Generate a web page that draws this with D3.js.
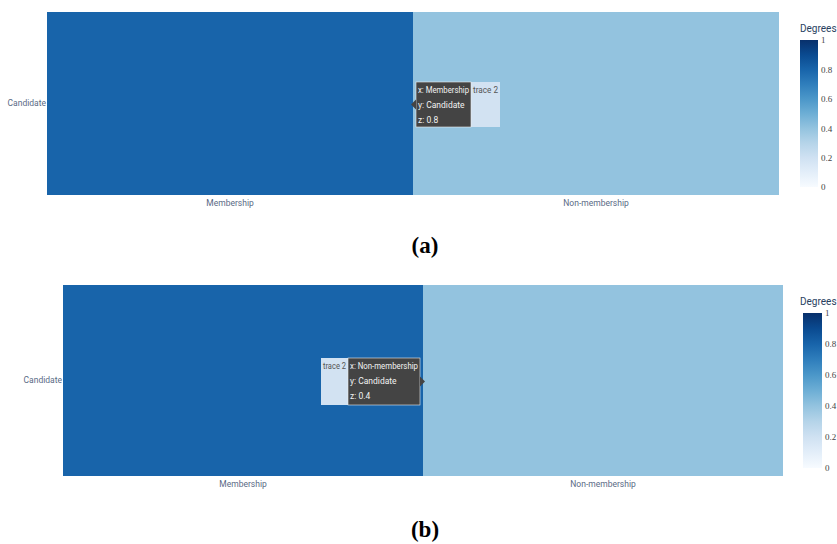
<!DOCTYPE html>
<html>
<head>
<meta charset="utf-8">
<script src="https://cdn.jsdelivr.net/npm/d3@7"></script>
<style>
  html, body { margin: 0; padding: 0; background: #fff; }
  svg { display: block; }
</style>
</head>
<body>
<svg id="chart" width="837" height="544"></svg>
<script>
// Heatmap data: one row, two columns
const xCategories = ["Membership", "Non-membership"];
const yCategories = ["Candidate"];
const degreesA = [0.8, 0.4];
const degreesB = [0.8, 0.4];
const colorTicks = [0, 0.2, 0.4, 0.6, 0.8, 1];
const captions = ["(a)", "(b)"];

const SANS = "Roboto, 'Open Sans', sans-serif";
const SERIF = "'Liberation Serif', 'Times New Roman', serif";

const svg = d3.select("#chart");
const color = d3.scaleSequential(d3.interpolateBlues).domain([0, 1]);

// shared gradient for the colour bars (vertical, 1 at top)
const defs = svg.append("defs");
const grad = defs.append("linearGradient")
  .attr("id", "blues").attr("x1", 0).attr("y1", 1).attr("x2", 0).attr("y2", 0);
d3.range(0, 1.0001, 0.1).forEach(t => {
  grad.append("stop").attr("offset", t).attr("stop-color", color(t));
});

function panel(cfg) {
  const g = svg.append("g");
  const x = d3.scaleBand().domain(xCategories).range([cfg.left, cfg.right]);
  const y = d3.scaleBand().domain(yCategories).range([cfg.top, cfg.bottom]);

  const cells = [];
  yCategories.forEach(yc => xCategories.forEach((xc, i) => cells.push({ x: xc, y: yc, z: cfg.values[i] })));

  g.selectAll("rect.cell").data(cells).enter().append("rect")
    .attr("class", "cell")
    .attr("x", d => x(d.x)).attr("y", d => y(d.y))
    .attr("width", x.bandwidth()).attr("height", y.bandwidth())
    .attr("fill", d => color(d.z));

  // axes
  const xAxis = g.append("g").attr("transform", `translate(0,${cfg.bottom})`)
    .call(d3.axisBottom(x).tickSize(0).tickPadding(5));
  const yAxis = g.append("g").attr("transform", `translate(${cfg.left},0)`)
    .call(d3.axisLeft(y).tickSize(0).tickPadding(1));
  [xAxis, yAxis].forEach(a => {
    a.select(".domain").remove();
    a.selectAll("text").style("font-size", "8.5px").style("fill", "#5a6a85")
      .style("font-family", SANS);
  });

  // colour bar
  const cb = d3.scaleLinear().domain([0, 1]).range([cfg.cbBottom, cfg.cbTop]);
  g.append("rect").attr("x", cfg.cbX).attr("y", cfg.cbTop)
    .attr("width", cfg.cbW).attr("height", cfg.cbBottom - cfg.cbTop)
    .attr("fill", "url(#blues)");
  g.append("g").attr("transform", `translate(${cfg.cbX + cfg.cbW},0)`)
    .call(d3.axisRight(cb).tickValues(colorTicks).tickFormat(d3.format("~g")).tickSize(0).tickPadding(3))
    .call(a => a.select(".domain").remove())
    .selectAll("text").style("font-size", "9px").style("fill", "#444")
    .style("font-family", SERIF);
  g.append("text").attr("x", cfg.titleX).attr("y", cfg.cbTop - 8)
    .style("font-size", "10px").style("fill", "#2a3f5f").style("font-family", SANS)
    .text("Degrees");

  // hover label
  const hv = cfg.hover;
  const d = cells[hv.index];
  const lines = [`x: ${d.x}`, `y: ${d.y}`, `z: ${d.z}`];
  const hg = g.append("g");
  hg.append("rect").attr("x", hv.nameX).attr("y", hv.top)
    .attr("width", hv.nameW).attr("height", hv.h).attr("fill", "#d2e2f2");
  hg.append("text").attr("x", hv.nameX + 2).attr("y", hv.top + 11)
    .attr("textLength", hv.nameW - 4).attr("lengthAdjust", "spacingAndGlyphs")
    .style("font-size", "8.5px").style("fill", "#555").style("font-family", SANS)
    .text("trace 2");
  hg.append("rect").attr("x", hv.boxX).attr("y", hv.top)
    .attr("width", hv.boxW).attr("height", hv.h).attr("fill", "#444")
    .attr("stroke", "#eee").attr("stroke-width", 0.6);
  const ax = hv.arrowX, ay = hv.top + hv.h / 2, dir = hv.arrowDir;
  hg.append("path")
    .attr("d", `M${ax},${ay} L${ax - dir * 5},${ay - 5} L${ax - dir * 5},${ay + 5} Z`)
    .attr("fill", "#444");
  hg.selectAll("text.ln").data(lines).enter().append("text")
    .attr("class", "ln")
    .attr("x", hv.boxX + 2).attr("y", (t, i) => hv.top + 11 + i * 15)
    .style("font-size", "8.5px").style("fill", "#f2f2f2").style("font-family", SANS)
    .text(t => t)
    .each(function () {
      // keep each line inside the box
      const w = this.getComputedTextLength();
      const maxW = hv.boxW - 4;
      if (w > maxW) d3.select(this).attr("textLength", maxW).attr("lengthAdjust", "spacingAndGlyphs");
    });

  svg.append("text").attr("x", cfg.capX).attr("y", cfg.capY)
    .attr("text-anchor", "middle")
    .style("font-size", "23px").style("font-weight", "bold")
    .style("font-family", SERIF).style("fill", "#000")
    .text(cfg.caption);
}

panel({
  left: 47, right: 779, top: 12, bottom: 195, values: degreesA,
  cbX: 800, cbW: 18, cbTop: 40, cbBottom: 187, titleX: 800,
  hover: { index: 0, top: 82, h: 45, boxX: 416, boxW: 55, nameX: 471, nameW: 29, arrowX: 411, arrowDir: -1 },
  caption: captions[0], capX: 425, capY: 253
});

panel({
  left: 63, right: 783, top: 285, bottom: 476, values: degreesB,
  cbX: 803, cbW: 19, cbTop: 313, cbBottom: 468, titleX: 800,
  hover: { index: 1, top: 358, h: 47, boxX: 348, boxW: 72, nameX: 321, nameW: 27, arrowX: 425, arrowDir: 1 },
  caption: captions[1], capX: 425, capY: 537
});
</script>
</body>
</html>
